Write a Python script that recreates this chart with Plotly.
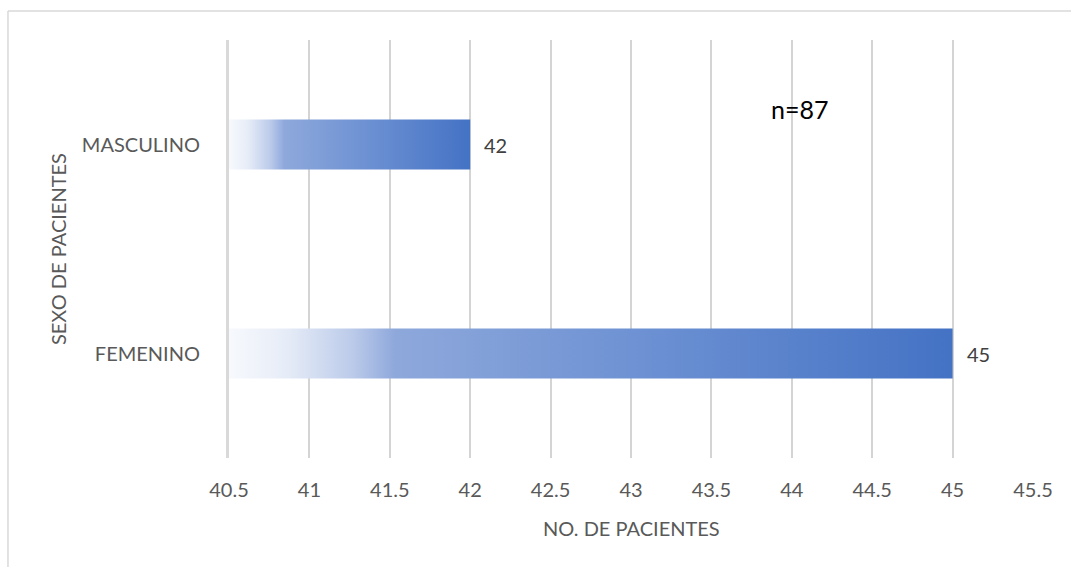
import plotly.graph_objects as go

categories = ["FEMENINO", "MASCULINO"]
values = [45, 42]
x_min, x_max = 40.5, 45.5
x_ticks = [40.5, 41, 41.5, 42, 42.5, 43, 43.5, 44, 44.5, 45, 45.5]
note = "n=87"

FONT = "Lato"
BAR_HALF = 0.12
grad = [[0.0, "#f7f9fd"], [0.08, "#e6ecf7"], [0.17, "#bccbea"], [0.23, "#8ea8db"],
        [0.6, "#6a8fd2"], [1.0, "#4472c4"]]

fig = go.Figure()
for i, (c, v) in enumerate(zip(categories, values)):
    fig.add_trace(go.Scatter(
        x=[x_min, v, v, x_min, x_min],
        y=[i - BAR_HALF, i - BAR_HALF, i + BAR_HALF, i + BAR_HALF, i - BAR_HALF],
        mode="lines", line=dict(width=0), fill="toself",
        fillgradient=dict(type="horizontal", colorscale=grad),
        hoverinfo="skip", showlegend=False,
    ))
    fig.add_annotation(x=v, y=i, text=str(v), showarrow=False, xanchor="left",
                       xshift=12, font=dict(family=FONT, size=20, color="#404040"))

fig.add_annotation(x=44.05, y=1.17, text=note, showarrow=False,
                   font=dict(family=FONT, size=25, color="#000000"))

fig.add_annotation(xref="paper", yref="paper", x=0.5, y=-0.135, yanchor="top",
                   text="NO. DE PACIENTES", showarrow=False,
                   font=dict(family=FONT, size=20, color="#595959"))
fig.add_annotation(xref="paper", yref="paper", x=-0.23, y=0.5, textangle=-90,
                   text="SEXO DE PACIENTES", showarrow=False,
                   font=dict(family=FONT, size=20, color="#595959"))

# outer frame
fig.add_shape(type="line", xref="paper", yref="paper", x0=-0.2749, x1=1.06, y0=1.0694, y1=1.0694,
              line=dict(color="#d9d9d9", width=1.5))
fig.add_shape(type="line", xref="paper", yref="paper", x0=-0.2749, x1=-0.2749, y0=1.0694, y1=-0.27,
              line=dict(color="#d9d9d9", width=1.5))

fig.update_xaxes(range=[x_min, x_max], tickvals=x_ticks, ticktext=[f"{t:g}" for t in x_ticks],
                 showgrid=True, gridcolor="#d4d4d4", gridwidth=2, zeroline=False,
                 showline=False, ticks="", ticklabelstandoff=18,
                 tickfont=dict(family=FONT, size=20, color="#595959"))
fig.update_yaxes(range=[-0.5, 1.5], tickvals=list(range(len(categories))), ticktext=categories,
                 showgrid=False, zeroline=False, showline=True, linecolor="#d9d9d9", linewidth=3,
                 ticks="", ticklabelstandoff=22,
                 tickfont=dict(family=FONT, size=20, color="#595959"))

fig.update_layout(width=1071, height=567, margin=dict(l=229, r=38, t=40, b=109),
                  plot_bgcolor="white", paper_bgcolor="white", showlegend=False)
fig.write_html("out.html")
